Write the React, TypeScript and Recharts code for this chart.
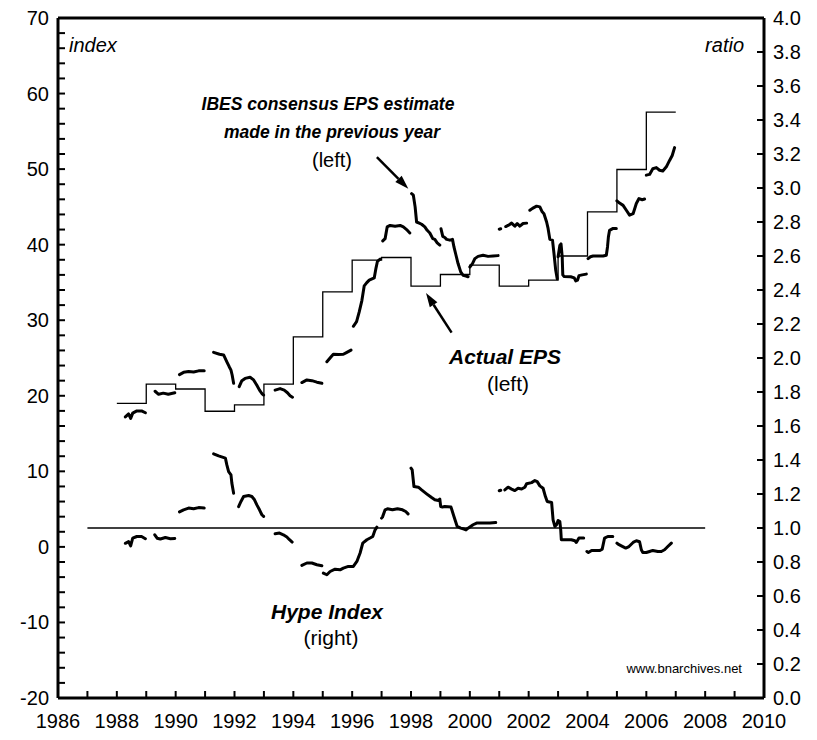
import { LineChart, Line, XAxis, YAxis, ReferenceLine } from "recharts"

const FONT = "'Liberation Sans', Arial, Helvetica, sans-serif"

// Actual EPS, one value per calendar year (left axis)
const actualYears = [1988, 1989, 1990, 1991, 1992, 1993, 1994, 1995, 1996, 1997, 1998, 1999, 2000, 2001, 2002, 2003, 2004, 2005, 2006]
const actualEps = [19.0, 21.55, 20.9, 17.95, 18.8, 21.55, 27.8, 33.75, 37.95, 38.3, 34.5, 36.05, 37.3, 34.5, 35.3, 38.5, 44.35, 49.95, 57.55]

// IBES consensus estimate made in the previous year, one run per target year (left axis)
const ibesSegments: [number, number][][] = [
  [[1988.29, 17.2], [1988.4, 17.6], [1988.47, 17.0], [1988.54, 17.7], [1988.68, 18.0], [1988.84, 18.0], [1988.97, 17.75]],
  [[1989.3, 20.6], [1989.42, 20.2], [1989.58, 20.35], [1989.75, 20.2], [1989.97, 20.4]],
  [[1990.13, 22.8], [1990.27, 23.1], [1990.44, 23.2], [1990.61, 23.15], [1990.78, 23.3], [1990.97, 23.3]],
  [[1991.29, 25.75], [1991.49, 25.5], [1991.63, 25.4], [1991.74, 24.5], [1991.82, 23.85], [1991.88, 23.4], [1991.92, 22.75], [1991.97, 21.65]],
  [[1992.16, 21.2], [1992.25, 22.0], [1992.36, 22.3], [1992.53, 22.45], [1992.65, 22.1], [1992.76, 21.4], [1992.85, 20.75], [1992.93, 20.3], [1992.99, 20.1]],
  [[1993.38, 20.75], [1993.55, 20.95], [1993.69, 20.75], [1993.8, 20.4], [1993.89, 20.0], [1993.97, 19.8]],
  [[1994.29, 21.75], [1994.46, 22.1], [1994.63, 22.0], [1994.8, 21.8], [1994.97, 21.65]],
  [[1995.14, 24.5], [1995.27, 25.1], [1995.36, 25.5], [1995.53, 25.45], [1995.7, 25.5], [1995.82, 25.75], [1995.96, 26.05]],
  [[1996.04, 29.2], [1996.15, 29.8], [1996.24, 31.1], [1996.33, 32.6], [1996.41, 34.55], [1996.49, 34.95], [1996.58, 35.3], [1996.75, 35.6], [1996.81, 36.9], [1996.86, 37.8], [1996.95, 38.1]],
  [[1997.04, 40.5], [1997.12, 40.8], [1997.19, 42.35], [1997.29, 42.55], [1997.46, 42.45], [1997.63, 42.55], [1997.74, 42.35], [1997.85, 42.0], [1997.96, 41.55]],
  [[1998.02, 46.75], [1998.08, 46.55], [1998.14, 45.0], [1998.19, 43.0], [1998.28, 42.85], [1998.36, 42.7], [1998.47, 42.35], [1998.55, 41.9], [1998.64, 41.55], [1998.74, 40.8], [1998.81, 40.7], [1998.89, 40.25], [1998.98, 39.95]],
  [[1999.02, 42.1], [1999.08, 41.1], [1999.15, 40.95], [1999.21, 40.7], [1999.32, 40.6], [1999.41, 40.7], [1999.46, 39.7], [1999.53, 38.6], [1999.6, 37.5], [1999.69, 36.4], [1999.77, 35.95], [1999.87, 35.85], [1999.94, 35.75]],
  [[2000.0, 37.05], [2000.09, 37.5], [2000.17, 38.15], [2000.28, 38.45], [2000.45, 38.6], [2000.62, 38.45], [2000.79, 38.5], [2000.96, 38.55]],
  [[2001.0, 42.05], [2001.05, 42.1]],
  [[2001.22, 42.4], [2001.3, 42.55], [2001.42, 42.85], [2001.53, 42.45], [2001.61, 42.8], [2001.7, 42.45], [2001.81, 42.8], [2001.93, 42.85]],
  [[2002.04, 44.55], [2002.13, 44.8], [2002.27, 45.1], [2002.38, 45.0], [2002.46, 44.35], [2002.52, 44.1], [2002.61, 43.0], [2002.66, 42.15], [2002.72, 40.7], [2002.81, 40.6], [2002.86, 38.85], [2002.92, 36.6], [2002.97, 35.5]],
  [[2003.0, 38.4], [2003.06, 39.9], [2003.1, 40.1], [2003.14, 38.4], [2003.16, 36.0], [2003.2, 35.8], [2003.43, 35.75], [2003.55, 35.6], [2003.6, 35.2], [2003.66, 35.3], [2003.71, 35.9], [2003.82, 36.0], [2003.96, 36.1]],
  [[2004.02, 38.15], [2004.1, 38.4], [2004.19, 38.5], [2004.36, 38.5], [2004.53, 38.5], [2004.64, 38.6], [2004.68, 39.7], [2004.71, 41.0], [2004.75, 41.9], [2004.87, 42.15], [2004.98, 42.15]],
  [[2005.0, 45.8], [2005.09, 45.5], [2005.21, 45.2], [2005.32, 44.55], [2005.43, 43.9], [2005.55, 44.1], [2005.66, 45.45], [2005.75, 46.1], [2005.86, 45.95], [2005.94, 46.05]],
  [[2006.0, 49.2], [2006.11, 49.3], [2006.22, 50.05], [2006.34, 50.2], [2006.45, 49.85], [2006.56, 49.75], [2006.68, 50.3], [2006.79, 51.15], [2006.88, 51.8], [2006.96, 52.85]],
]

// Hype Index = estimate / actual (right axis)
const hypeSegments: [number, number][][] = [
  [[1988.29, 0.91], [1988.4, 0.92], [1988.47, 0.895], [1988.54, 0.94], [1988.68, 0.95], [1988.84, 0.95], [1988.97, 0.937]],
  [[1989.29, 0.96], [1989.37, 0.94], [1989.48, 0.935], [1989.65, 0.944], [1989.82, 0.937], [1989.97, 0.938]],
  [[1990.13, 1.095], [1990.27, 1.107], [1990.44, 1.117], [1990.61, 1.113], [1990.78, 1.12], [1990.97, 1.117]],
  [[1991.29, 1.436], [1991.46, 1.424], [1991.69, 1.411], [1991.74, 1.371], [1991.8, 1.332], [1991.88, 1.313], [1991.91, 1.264], [1991.97, 1.205]],
  [[1992.14, 1.126], [1992.22, 1.156], [1992.31, 1.185], [1992.48, 1.191], [1992.59, 1.185], [1992.68, 1.166], [1992.76, 1.136], [1992.85, 1.107], [1992.93, 1.078], [1992.99, 1.068]],
  [[1993.38, 0.966], [1993.53, 0.97], [1993.66, 0.96], [1993.78, 0.947], [1993.87, 0.931], [1993.96, 0.917]],
  [[1994.29, 0.78], [1994.46, 0.794], [1994.63, 0.794], [1994.8, 0.784], [1994.97, 0.778]],
  [[1995.02, 0.735], [1995.14, 0.725], [1995.25, 0.744], [1995.42, 0.758], [1995.59, 0.754], [1995.7, 0.764], [1995.87, 0.774], [1996.04, 0.774], [1996.16, 0.803], [1996.27, 0.853], [1996.36, 0.911], [1996.5, 0.931], [1996.61, 0.941], [1996.7, 0.95], [1996.78, 0.989], [1996.84, 1.005]],
  [[1997.0, 1.058], [1997.03, 1.064], [1997.12, 1.107], [1997.2, 1.113], [1997.37, 1.107], [1997.54, 1.113], [1997.71, 1.107], [1997.82, 1.097], [1997.9, 1.083]],
  [[1998.0, 1.352], [1998.04, 1.342], [1998.1, 1.244], [1998.25, 1.24], [1998.36, 1.224], [1998.53, 1.201], [1998.7, 1.179], [1998.81, 1.166], [1998.93, 1.162], [1998.98, 1.17], [1999.01, 1.126], [1999.07, 1.123], [1999.15, 1.126], [1999.36, 1.123], [1999.46, 1.068], [1999.57, 1.009], [1999.69, 0.999], [1999.8, 0.994], [1999.87, 0.989], [1999.94, 0.999], [2000.11, 1.019], [2000.23, 1.029], [2000.45, 1.029], [2000.68, 1.029], [2000.88, 1.032]],
  [[2001.0, 1.219], [2001.05, 1.222]],
  [[2001.19, 1.224], [2001.3, 1.24], [2001.42, 1.229], [2001.53, 1.22], [2001.64, 1.234], [2001.76, 1.229], [2001.87, 1.24], [2001.93, 1.26], [2002.1, 1.267], [2002.21, 1.279], [2002.29, 1.273], [2002.38, 1.248], [2002.49, 1.234], [2002.57, 1.185], [2002.63, 1.156], [2002.78, 1.15], [2002.83, 1.048], [2002.89, 1.009], [2002.95, 1.019], [2003.0, 1.044], [2003.06, 1.038], [2003.09, 0.989], [2003.11, 0.931], [2003.28, 0.931], [2003.45, 0.931], [2003.57, 0.925], [2003.62, 0.915], [2003.71, 0.941], [2003.87, 0.941]],
  [[2003.98, 0.862], [2004.03, 0.856], [2004.14, 0.868], [2004.42, 0.868], [2004.5, 0.876], [2004.58, 0.941], [2004.69, 0.95], [2004.86, 0.95]],
  [[2005.0, 0.911], [2005.04, 0.905], [2005.15, 0.895], [2005.3, 0.882], [2005.41, 0.891], [2005.55, 0.915], [2005.66, 0.925], [2005.77, 0.919], [2005.83, 0.872], [2005.88, 0.856], [2006.0, 0.856], [2006.11, 0.862], [2006.22, 0.868], [2006.39, 0.862], [2006.51, 0.862], [2006.62, 0.872], [2006.73, 0.891], [2006.85, 0.911]],
]

// ratio = 1 reference line
const baselineYears = [1987, 2008]
const baselineValue = 1

const yearTicks = Array.from({ length: 25 }, (_, i) => 1986 + i)
const leftTicks = Array.from({ length: 46 }, (_, i) => -20 + i * 2)
const rightTicks = Array.from({ length: 21 }, (_, i) => Math.round(i * 2) / 10)

// put a null row between runs so the line breaks
function toRows(segments: [number, number][][]) {
  const rows: { year: number; value: number | null }[] = []
  segments.forEach((seg, i) => {
    if (i > 0) {
      const prev = segments[i - 1]
      rows.push({ year: (prev[prev.length - 1][0] + seg[0][0]) / 2, value: null })
    }
    seg.forEach(([year, value]) => rows.push({ year, value }))
  })
  return rows
}

const actualRows = [
  ...actualYears.map((year, i) => ({ year, value: actualEps[i] })),
  { year: 2007, value: actualEps[actualEps.length - 1] },
]
const ibesRows = toRows(ibesSegments)
const hypeRows = toRows(hypeSegments)
const baselineRows = baselineYears.map((year) => ({ year, value: baselineValue }))

const YearTick = (props: any) => {
  const { x, y, payload } = props
  const yr = payload.value
  return (
    <g>
      <line x1={x} x2={x} y1={y} y2={y - 7} stroke="#000" strokeWidth={2} />
      {yr % 2 === 0 && (
        <text x={x} y={y + 30} textAnchor="middle" fontSize={20} fontFamily={FONT} fill="#000">
          {yr}
        </text>
      )}
    </g>
  )
}

const LeftTick = (props: any) => {
  const { x, y, payload } = props
  const v = payload.value
  return (
    <g>
      <line x1={x} x2={x + 7} y1={y} y2={y} stroke="#000" strokeWidth={2} />
      {v % 10 === 0 && (
        <text x={x - 9} y={y + 7} textAnchor="end" fontSize={20} fontFamily={FONT} fill="#000">
          {v}
        </text>
      )}
    </g>
  )
}

const RightTick = (props: any) => {
  const { x, y, payload } = props
  return (
    <g>
      <line x1={x} x2={x - 7} y1={y} y2={y} stroke="#000" strokeWidth={2} />
      <text x={x + 9} y={y + 7} textAnchor="start" fontSize={20} fontFamily={FONT} fill="#000">
        {Number(payload.value).toFixed(1)}
      </text>
    </g>
  )
}

const Arrow = (props: any) => {
  const { x1, y1, x2, y2 } = props
  const ang = Math.atan2(y2 - y1, x2 - x1)
  const len = 14
  const half = 4.5
  const bx = x2 - len * Math.cos(ang)
  const by = y2 - len * Math.sin(ang)
  const px = -Math.sin(ang) * half
  const py = Math.cos(ang) * half
  return (
    <g>
      <line x1={x1} y1={y1} x2={bx} y2={by} stroke="#000" strokeWidth={2.5} />
      <polygon points={`${x2},${y2} ${bx + px},${by + py} ${bx - px},${by - py}`} fill="#000" />
    </g>
  )
}

const labelStyle = { fontFamily: FONT, fill: "#000" }

export default function App() {
  return (
    <div style={{ position: "absolute", left: 0, top: 0, width: 817, height: 740, background: "#fff" }}>
      <LineChart width={817} height={740} margin={{ top: 18, right: 0, bottom: 0, left: 0 }}>
        <XAxis
          dataKey="year"
          type="number"
          domain={[1986, 2010]}
          ticks={yearTicks}
          interval={0}
          tickSize={0}
          tickMargin={0}
          height={42}
          axisLine={{ stroke: "#000", strokeWidth: 3 }}
          tick={<YearTick />}
          allowDataOverflow
        />
        <YAxis
          yAxisId="left"
          domain={[-20, 70]}
          ticks={leftTicks}
          interval={0}
          tickSize={0}
          tickMargin={0}
          width={58}
          axisLine={{ stroke: "#000", strokeWidth: 3 }}
          tick={<LeftTick />}
          allowDataOverflow
        />
        <YAxis
          yAxisId="right"
          orientation="right"
          domain={[0, 4]}
          ticks={rightTicks}
          interval={0}
          tickSize={0}
          tickMargin={0}
          width={53}
          axisLine={{ stroke: "#000", strokeWidth: 3 }}
          tick={<RightTick />}
          allowDataOverflow
        />
        <ReferenceLine yAxisId="left" y={70} stroke="#000" strokeWidth={3} />

        <Line
          yAxisId="right"
          data={baselineRows}
          dataKey="value"
          type="linear"
          stroke="#000"
          strokeWidth={1.3}
          dot={false}
          isAnimationActive={false}
        />
        <Line
          yAxisId="left"
          data={actualRows}
          dataKey="value"
          type="stepAfter"
          stroke="#000"
          strokeWidth={1.3}
          dot={false}
          isAnimationActive={false}
        />
        <Line
          yAxisId="left"
          data={ibesRows}
          dataKey="value"
          type="linear"
          stroke="#000"
          strokeWidth={3}
          strokeLinecap="round"
          strokeLinejoin="round"
          dot={false}
          connectNulls={false}
          isAnimationActive={false}
        />
        <Line
          yAxisId="right"
          data={hypeRows}
          dataKey="value"
          type="linear"
          stroke="#000"
          strokeWidth={3}
          strokeLinecap="round"
          strokeLinejoin="round"
          dot={false}
          connectNulls={false}
          isAnimationActive={false}
        />

        <ReferenceLine
          yAxisId="left"
          segment={[{ x: 1996.84, y: 51.6 }, { x: 1997.91, y: 47.4 }]}
          shape={<Arrow />}
        />
        <ReferenceLine
          yAxisId="left"
          segment={[{ x: 1999.38, y: 28.35 }, { x: 1998.51, y: 33.6 }]}
          shape={<Arrow />}
        />
      </LineChart>

      <svg width={817} height={740} style={{ position: "absolute", left: 0, top: 0, pointerEvents: "none" }}>
        <text x={69} y={52} fontSize={20} fontStyle="italic" {...labelStyle}>index</text>
        <text x={744} y={52} fontSize={20} fontStyle="italic" textAnchor="end" {...labelStyle}>ratio</text>

        <text x={328} y={110} fontSize={17.5} fontWeight="bold" fontStyle="italic" textAnchor="middle" {...labelStyle}>
          IBES consensus EPS estimate
        </text>
        <text x={332} y={138} fontSize={17.5} fontWeight="bold" fontStyle="italic" textAnchor="middle" {...labelStyle}>
          made in the previous year
        </text>
        <text x={332} y={167} fontSize={20} textAnchor="middle" {...labelStyle}>(left)</text>

        <text x={505} y={364} fontSize={21} fontWeight="bold" fontStyle="italic" textAnchor="middle" {...labelStyle}>
          Actual EPS
        </text>
        <text x={508} y={391} fontSize={21} textAnchor="middle" {...labelStyle}>(left)</text>

        <text x={327} y={619} fontSize={21} fontWeight="bold" fontStyle="italic" textAnchor="middle" {...labelStyle}>
          Hype Index
        </text>
        <text x={331} y={645} fontSize={21} textAnchor="middle" {...labelStyle}>(right)</text>

        <text x={742} y={673} fontSize={13} textAnchor="end" {...labelStyle}>www.bnarchives.net</text>
      </svg>
    </div>
  )
}
